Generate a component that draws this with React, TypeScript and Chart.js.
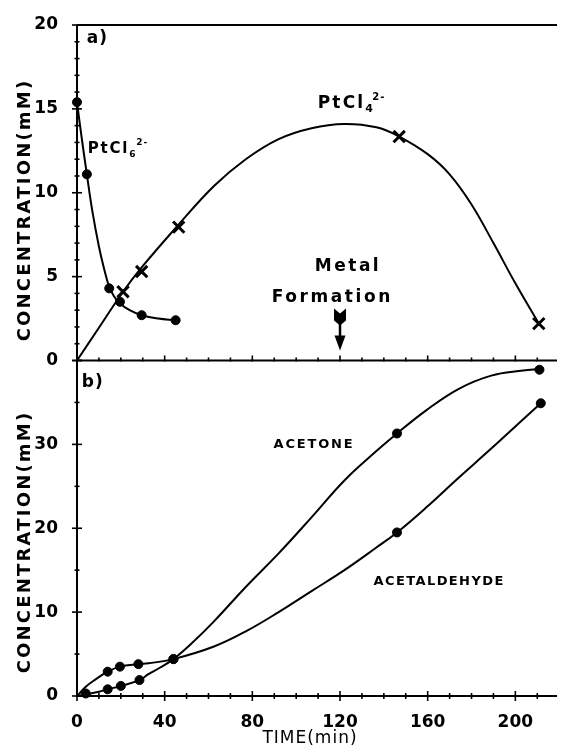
import React, { useEffect, useRef } from "react";
import { Chart, registerables } from "chart.js";
Chart.register(...registerables);

// ---------- tick labels ----------
const xTickValues = [0, 40, 80, 120, 160, 200];
const topTickValues = [0, 5, 10, 15, 20];
const bottomTickValues = [0, 10, 20, 30, 40];

// ---------- panel a) measured points ----------
const ptcl6Time = [0, 4.5, 14.7, 19.6, 29.5, 45];
const ptcl6Conc = [15.4, 11.1, 4.3, 3.5, 2.7, 2.4];
const ptcl4Time = [21, 29.5, 46.4, 147, 210.7];
const ptcl4Conc = [4.1, 5.3, 7.95, 13.35, 2.2];

// ---------- panel a) drawn curves ----------
const ptcl6CurveTime = [0, 2, 4.5, 7, 10, 12.5, 14.7, 17, 19.6, 24, 29.5, 37, 45];
const ptcl6CurveConc = [15.4, 13.4, 11.1, 8.9, 6.8, 5.4, 4.4, 3.8, 3.4, 3.0, 2.7, 2.5, 2.4];
const ptcl4CurveTime = [0, 10, 21, 29.5, 45, 62.5, 77, 92, 107, 122, 136.6, 147, 160, 170, 180, 190, 200, 210.7];
const ptcl4CurveConc = [0, 1.95, 4.1, 5.55, 7.9, 10.4, 12.0, 13.2, 13.85, 14.1, 13.9, 13.35, 12.3, 11.1, 9.3, 7.0, 4.6, 2.2];

// ---------- panel b) measured points ----------
const acetoneTime = [4, 14, 20, 28.5, 44, 146, 211];
const acetoneConc = [0.3, 0.8, 1.2, 1.9, 4.4, 31.3, 38.9];
const acetaldehydeTime = [14, 19.6, 28, 44, 146, 211.6];
const acetaldehydeConc = [2.9, 3.5, 3.8, 4.4, 19.5, 34.9];

// ---------- panel b) drawn curves ----------
const acetoneCurveTime = [0, 4, 10, 14, 20, 28.5, 32.6, 38, 44, 52, 62.5, 77, 92, 107, 122, 136.6, 146, 159, 174, 189, 203.6, 211];
const acetoneCurveConc = [0, 0.2, 0.5, 0.8, 1.2, 1.9, 2.6, 3.4, 4.4, 6.2, 8.9, 13.0, 17.0, 21.3, 25.7, 29.2, 31.3, 34.0, 36.6, 38.2, 38.8, 39.0];
const acetaldehydeCurveTime = [0, 4, 8, 14, 19.6, 28, 32.6, 44, 62.5, 77, 92, 107, 122, 136.6, 146, 159, 174, 189, 203.6, 211.6];
const acetaldehydeCurveConc = [0, 1.1, 1.9, 2.9, 3.5, 3.8, 3.9, 4.4, 5.9, 7.7, 10.0, 12.5, 15.0, 17.7, 19.5, 22.4, 26.0, 29.5, 33.0, 34.9];

// metal formation arrow (time, from conc, to conc)
const arrowTime = 120;
const arrowFrom = 3.1;
const arrowTo = 0.6;

const FONT = "'DejaVu Sans', sans-serif";

function pts(t: number[], v: number[]) {
  return t.map((x, i) => ({ x, y: v[i] }));
}

export default function App() {
  const ref = useRef<HTMLCanvasElement>(null);

  useEffect(() => {
    const canvas = ref.current!;

    const decor = {
      id: "decor",
      afterDraw(chart: any) {
        const ctx: CanvasRenderingContext2D = chart.ctx;
        const xs = chart.scales.x;
        const yt = chart.scales.yTop;
        const yb = chart.scales.yBot;
        const L = xs.getPixelForValue(0);
        const R = chart.chartArea.right;
        ctx.save();
        ctx.strokeStyle = "#000";
        ctx.fillStyle = "#000";
        ctx.lineWidth = 2;
        const line = (x1: number, y1: number, x2: number, y2: number) => {
          ctx.beginPath();
          ctx.moveTo(x1, y1);
          ctx.lineTo(x2, y2);
          ctx.stroke();
        };
        // frame lines
        line(L, yt.getPixelForValue(20), R, yt.getPixelForValue(20));
        line(L, yt.getPixelForValue(0), R, yt.getPixelForValue(0));
        line(L, yb.getPixelForValue(0), R, yb.getPixelForValue(0));
        line(L, yt.getPixelForValue(20), L, yb.getPixelForValue(0));
        // y ticks
        ctx.lineWidth = 1.6;
        for (let v = 0; v <= 20; v += 1) {
          const len = v % 5 === 0 ? 5 : 2.5;
          const y = yt.getPixelForValue(v);
          line(L - len, y, L + len, y);
        }
        for (let v = 0; v <= 40; v += 5) {
          const len = v % 10 === 0 ? 5 : 2.5;
          const y = yb.getPixelForValue(v);
          line(L - len, y, L + len, y);
        }
        // x ticks on both panel baselines
        for (let t = 0; t <= 210; t += 10) {
          const x = xs.getPixelForValue(t);
          const y1 = yb.getPixelForValue(0);
          const y2 = yt.getPixelForValue(0);
          const len = t % 40 === 0 ? 5 : 3;
          line(x, y1 - len, x, y1 + len);
          line(x, y2 - len, x, y2 + 1);
        }
        // arrow
        const ax = xs.getPixelForValue(arrowTime);
        const yA = yt.getPixelForValue(arrowFrom);
        const yB = yt.getPixelForValue(arrowTo);
        ctx.beginPath();
        ctx.moveTo(ax - 6, yA);
        ctx.lineTo(ax, yA + 5);
        ctx.lineTo(ax + 6, yA);
        ctx.lineTo(ax + 6, yA + 12);
        ctx.lineTo(ax, yA + 17);
        ctx.lineTo(ax - 6, yA + 12);
        ctx.closePath();
        ctx.fill();
        ctx.lineWidth = 2.5;
        line(ax, yA + 12, ax, yB - 10);
        ctx.beginPath();
        ctx.moveTo(ax - 5.5, yB - 15);
        ctx.lineTo(ax + 5.5, yB - 15);
        ctx.lineTo(ax, yB);
        ctx.closePath();
        ctx.fill();

        // texts
        const text = (s: string, x: number, y: number, font: string, spacing: number) => {
          ctx.font = font;
          (ctx as any).letterSpacing = spacing + "px";
          ctx.textAlign = "left";
          ctx.textBaseline = "alphabetic";
          ctx.fillText(s, x, y);
          return ctx.measureText(s).width;
        };
        const formula = (sub: string, x: number, y: number, size: number, spacing: number) => {
          const w = text("PtCl", x, y, `bold ${size}px ${FONT}`, spacing);
          text(sub, x + w, y + 4, `bold ${Math.round(size * 0.62)}px ${FONT}`, 0);
          text("2-", x + w + 7, y - 8, `bold ${Math.round(size * 0.6)}px ${FONT}`, 1);
        };
        formula("4", xs.getPixelForValue(109.8), yt.getPixelForValue(15.07), 17, 2.2);
        formula("6", xs.getPixelForValue(4.9), yt.getPixelForValue(12.34), 15, 1.8);
        text("a)", xs.getPixelForValue(4.5), yt.getPixelForValue(18.93), `bold 17px ${FONT}`, 1);
        text("b)", xs.getPixelForValue(2.2), yb.getPixelForValue(36.8), `bold 17px ${FONT}`, 1);
        text("Metal", xs.getPixelForValue(108.5), yt.getPixelForValue(5.34), `bold 17px ${FONT}`, 2.5);
        text("Formation", xs.getPixelForValue(88.8), yt.getPixelForValue(3.5), `bold 17px ${FONT}`, 2.6);
        text("ACETONE", xs.getPixelForValue(89.7), yb.getPixelForValue(29.6), `bold 13px ${FONT}`, 1.8);
        text("ACETALDEHYDE", xs.getPixelForValue(135.3), yb.getPixelForValue(13.2), `bold 13px ${FONT}`, 1.4);

        // axis titles
        const vtitle = (cx: number, cy: number) => {
          ctx.save();
          ctx.translate(cx, cy);
          ctx.rotate(-Math.PI / 2);
          ctx.font = `bold 18px ${FONT}`;
          (ctx as any).letterSpacing = "2.2px";
          ctx.textAlign = "center";
          ctx.textBaseline = "middle";
          ctx.fillText("CONCENTRATION(mM)", 0, 0);
          ctx.restore();
        };
        vtitle(25, 210);
        vtitle(25, 542);
        ctx.font = `17px ${FONT}`;
        (ctx as any).letterSpacing = "1px";
        ctx.textAlign = "center";
        ctx.textBaseline = "alphabetic";
        ctx.fillText("TIME(min)", 310, 743);
        ctx.restore();
      },
    };

    const tickFont = { family: FONT, size: 17, weight: "bold" as const };

    const marker = (data: any[], style: string, axis: string) => ({
      data,
      yAxisID: axis,
      showLine: false,
      pointStyle: style,
      pointRadius: style === "circle" ? 4.5 : 8,
      pointBackgroundColor: "#000",
      pointBorderColor: "#000",
      pointBorderWidth: style === "circle" ? 1 : 3,
      clip: false as any,
    });
    const curve = (data: any[], axis: string) => ({
      data,
      yAxisID: axis,
      showLine: true,
      pointRadius: 0,
      borderColor: "#000",
      borderWidth: 2,
      tension: 0.4,
      clip: false as any,
    });

    const chart = new Chart(canvas, {
      type: "scatter",
      data: {
        datasets: [
          curve(pts(ptcl6CurveTime, ptcl6CurveConc), "yTop"),
          curve(pts(ptcl4CurveTime, ptcl4CurveConc), "yTop"),
          curve(pts(acetoneCurveTime, acetoneCurveConc), "yBot"),
          curve(pts(acetaldehydeCurveTime, acetaldehydeCurveConc), "yBot"),
          marker(pts(ptcl6Time, ptcl6Conc), "circle", "yTop"),
          marker(pts(ptcl4Time, ptcl4Conc), "crossRot", "yTop"),
          marker(pts(acetoneTime, acetoneConc), "circle", "yBot"),
          marker(pts(acetaldehydeTime, acetaldehydeConc), "circle", "yBot"),
        ] as any,
      },
      options: {
        animation: false,
        responsive: false,
        maintainAspectRatio: false,
        layout: { padding: { top: 25, left: 0, right: 0, bottom: 0 } },
        plugins: { legend: { display: false }, tooltip: { enabled: false } },
        scales: {
          x: {
            type: "linear",
            position: "bottom",
            min: 0,
            max: 219,
            grid: { display: false },
            border: { display: false },
            ticks: { font: tickFont, color: "#000", padding: 8, maxRotation: 0 },
            afterBuildTicks: (s: any) => {
              s.ticks = xTickValues.map((v) => ({ value: v }));
            },
            afterFit: (s: any) => {
              s.height = 51;
            },
          },
          yBot: {
            type: "linear",
            position: "left",
            stack: "conc",
            stackWeight: 1,
            min: 0,
            max: 40,
            grid: { display: false },
            border: { display: false },
            ticks: {
              font: tickFont,
              color: "#000",
              padding: 11,
              callback: (v: any) => (v === 40 ? "" : String(v)),
            },
            afterBuildTicks: (s: any) => {
              s.ticks = bottomTickValues.map((v) => ({ value: v }));
            },
            afterFit: (s: any) => {
              s.width = 77;
            },
          },
          yTop: {
            type: "linear",
            position: "left",
            stack: "conc",
            stackWeight: 1,
            min: 0,
            max: 20,
            grid: { display: false },
            border: { display: false },
            ticks: { font: tickFont, color: "#000", padding: 11 },
            afterBuildTicks: (s: any) => {
              s.ticks = topTickValues.map((v) => ({ value: v }));
            },
            afterFit: (s: any) => {
              s.width = 77;
            },
          },
        },
      } as any,
      plugins: [decor],
    });
    return () => chart.destroy();
  }, []);

  return (
    <div style={{ position: "fixed", left: 0, top: 0, width: 568, height: 747, background: "#fff" }}>
      <canvas ref={ref} width={568} height={747} style={{ width: 568, height: 747, display: "block" }} />
    </div>
  );
}
